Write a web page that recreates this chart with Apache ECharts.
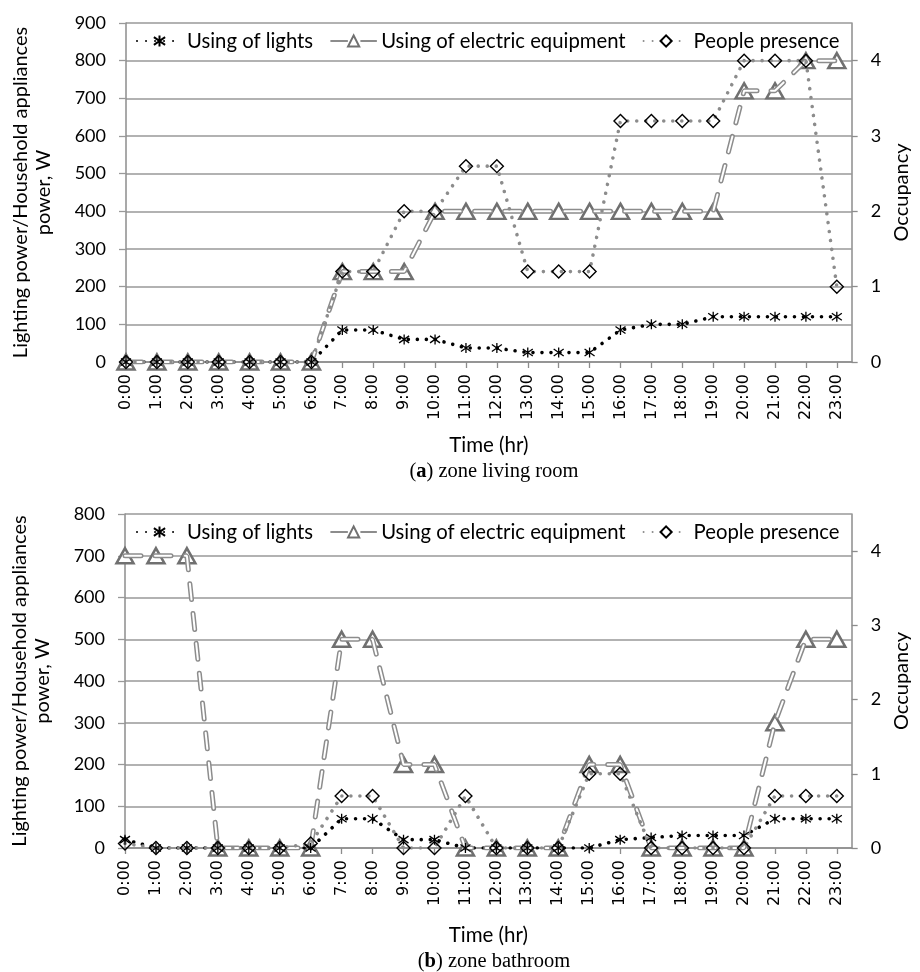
<!DOCTYPE html>
<html><head><meta charset="utf-8">
<script src="https://cdn.jsdelivr.net/npm/echarts@6/dist/echarts.min.js"></script>
<style>html,body{margin:0;padding:0;background:#fff}#c{width:920px;height:972px}</style>
</head><body><div id="c"></div>
<script>
const hours = ['0:00','1:00','2:00','3:00','4:00','5:00','6:00','7:00','8:00','9:00','10:00','11:00','12:00','13:00','14:00','15:00','16:00','17:00','18:00','19:00','20:00','21:00','22:00','23:00'];
const legendNames = ['Using of lights','Using of electric equipment','People presence'];
// (a) zone living room
const lrLights = [0,0,0,0,0,0,0,85,85,60,60,37,37,25,25,25,85,100,100,120,120,120,120,120];
const lrEquip  = [0,0,0,0,0,0,0,240,240,240,400,400,400,400,400,400,400,400,400,400,720,720,800,800];
const lrPeople = [0,0,0,0,0,0,0,1.2,1.2,2,2,2.6,2.6,1.2,1.2,1.2,3.2,3.2,3.2,3.2,4,4,4,1];
// (b) zone bathroom
const bLights = [20,0,0,0,0,0,0,70,70,20,20,0,0,0,0,0,20,25,30,30,30,70,70,70];
const bEquip  = [700,700,700,0,0,0,0,500,500,200,200,0,0,0,0,200,200,0,0,0,0,300,500,500];
const bPeople = [0.06,0,0,0,0,0,0.06,0.7,0.7,0,0,0.7,0,0,0,1,1,0,0,0,0,0.7,0.7,0.7];
const leftTicksA = [0,100,200,300,400,500,600,700,800,900];
const leftTicksB = [0,100,200,300,400,500,600,700,800];
const rightTicks = [0,1,2,3,4];

const FONT = 'Lato';
const pairs = arr => arr.map((v,i)=>[i,v]);
const idx = hours.map((h,i)=>i);
const star = 'path://M5,0L5,10M0.5,1.5L9.5,8.5M0.5,8.5L9.5,1.5';

function xAxis(gi){
  return {type:'value', gridIndex:gi, min:0, max:23.48, interval:1,
    name:'Time (hr)', nameLocation:'middle', nameGap: gi===0?73:77,
    nameTextStyle:{fontFamily:FONT,fontSize:20.5,color:'#000'},
    axisLine:{lineStyle:{color:'#8c8c8c',width:1.5}},
    axisTick:{customValues:idx,length:6,lineStyle:{color:'#8c8c8c',width:1.3}},
    axisLabel:{customValues:idx,rotate:90,margin:12,fontFamily:'DejaVu Sans',fontSize:16,color:'#000',
      formatter:v=>hours[Math.round(v)]},
    splitLine:{show:false}};
}
function yLeft(gi,max,ticks){
  return {type:'value', gridIndex:gi, min:0, max:max, interval:100,
    name:'Lighting power/Household appliances\npower, W', nameLocation:'middle', nameGap:71,
    nameTextStyle:{fontFamily:FONT,fontSize:20,color:'#000',lineHeight:23},
    axisLine:{show:true,lineStyle:{color:'#8c8c8c',width:1.5}},
    axisTick:{show:true,customValues:ticks,length:7,lineStyle:{color:'#999',width:1.3}},
    axisLabel:{customValues:ticks,margin:20,fontFamily:FONT,fontSize:18,color:'#000'},
    splitLine:{show:true,lineStyle:{color:'#999',width:1.5}}};
}
function yRight(gi){
  return {type:'value', gridIndex:gi, position:'right', min:0, max:4.5, interval:1,
    name:'Occupancy', nameLocation:'middle', nameGap:36,
    nameTextStyle:{fontFamily:FONT,fontSize:20,color:'#000'},
    axisLine:{show:true,lineStyle:{color:'#8c8c8c',width:1.5}},
    axisTick:{show:true,customValues:rightTicks,length:6,lineStyle:{color:'#8c8c8c',width:1.3}},
    axisLabel:{customValues:rightTicks,margin:19,fontFamily:FONT,fontSize:18,color:'#000'},
    splitLine:{show:false}};
}
function seriesFor(gi,lights,equip,people){
  const yl = gi*2, yr = gi*2+1;
  return [
    {type:'line',name:legendNames[0],xAxisIndex:gi,yAxisIndex:yl,data:pairs(lights),
      symbol:star,symbolSize:10,showAllSymbol:true,
      lineStyle:{color:'#000',width:3.6,type:[0.01,9],cap:'round'},
      itemStyle:{color:'rgba(0,0,0,0)',borderColor:'#000',borderWidth:1.3}},
    {type:'line',name:legendNames[1],xAxisIndex:gi,yAxisIndex:yl,data:pairs(equip),
      symbol:'triangle',symbolSize:[17,15],showSymbol:false,
      lineStyle:{color:'#8c8c8c',width:5,type:[16,14],cap:'round'},
      itemStyle:{color:'#fff',borderColor:'#707070',borderWidth:2.5}},
    {type:'line',name:'eqInner'+gi,xAxisIndex:gi,yAxisIndex:yl,data:pairs(equip),
      showSymbol:false,silent:true,
      lineStyle:{color:'#fff',width:2,type:[16,14],cap:'round'}},
    {type:'scatter',name:'eqMarks'+gi,xAxisIndex:gi,yAxisIndex:yl,data:pairs(equip),
      symbol:'triangle',symbolSize:[17,15],
      itemStyle:{color:'#fff',borderColor:'#707070',borderWidth:2.5,opacity:1}},
    {type:'line',name:legendNames[2],xAxisIndex:gi,yAxisIndex:yr,data:pairs(people),
      symbol:'diamond',symbolSize:[13,13],showAllSymbol:true,
      lineStyle:{color:'#8c8c8c',width:3.6,type:[0.01,9],cap:'round'},
      itemStyle:{color:'rgba(255,255,255,0)',borderColor:'#000',borderWidth:1.4}}
  ];
}
function legend(top){
  return {left:131, top:top, itemWidth:45, itemHeight:14, itemGap:17,
    data:legendNames, textStyle:{fontFamily:FONT,fontSize:20.3,color:'#000'},
    selectedMode:false};
}
const capStyle = {fontFamily:'Liberation Serif',fontSize:20.5,fontWeight:'normal',color:'#000',
  rich:{b:{fontFamily:'Liberation Serif',fontSize:20.5,fontWeight:'bold',color:'#000'}}};
const chart = echarts.init(document.getElementById('c'), null, {renderer:'canvas'});
chart.setOption({
  animation:false,
  backgroundColor:'#fff',
  title:[
    {text:'({b|a}) zone living room', left:489, textAlign:'center', top:456, textStyle:capStyle},
    {text:'({b|b}) zone bathroom', left:489, textAlign:'center', top:946, textStyle:capStyle}
  ],
  legend:[legend(26), legend(517)],
  grid:[
    {left:126, top:23, width:736, height:339},
    {left:123, top:514, width:740, height:334}
  ],
  xAxis:[xAxis(0), xAxis(1)],
  yAxis:[yLeft(0,900,leftTicksA), yRight(0), yLeft(1,800,leftTicksB), yRight(1)],
  series:[...seriesFor(0,lrLights,lrEquip,lrPeople), ...seriesFor(1,bLights,bEquip,bPeople)]
});
</script>
</body></html>
